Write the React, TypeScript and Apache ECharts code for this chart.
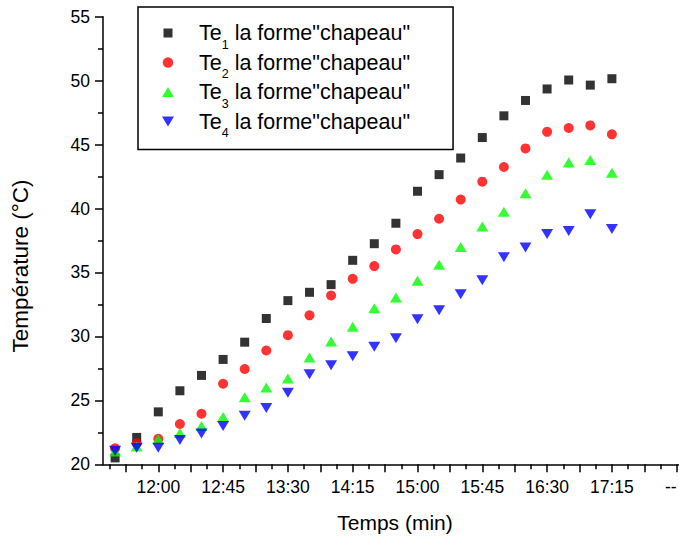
import React, { useEffect, useRef } from "react";
import * as echarts from "echarts";

// Sampling times (every 15 minutes)
const TIMES = [
  "11:30", "11:45", "12:00", "12:15", "12:30", "12:45", "13:00", "13:15",
  "13:30", "13:45", "14:00", "14:15", "14:30", "14:45", "15:00", "15:15",
  "15:30", "15:45", "16:00", "16:15", "16:30", "16:45", "17:00", "17:15",
];

// Temperatures (°C)
const TE1 = [
  20.5, 22.1, 24.1, 25.75, 26.95, 28.2, 29.55, 31.4, 32.8, 33.45, 34.05, 35.95,
  37.25, 38.85, 41.35, 42.65, 43.95, 45.55, 47.25, 48.45, 49.35, 50.05, 49.65, 50.15,
];
const TE2 = [
  21.25, 21.65, 22.0, 23.15, 23.95, 26.3, 27.45, 28.9, 30.1, 31.65, 33.2, 34.5,
  35.5, 36.8, 38.0, 39.2, 40.7, 42.1, 43.25, 44.7, 46.0, 46.3, 46.5, 45.8,
];
const TE3 = [
  21.0, 21.4, 21.95, 22.45, 23.0, 23.7, 25.25, 26.0, 26.7, 28.35, 29.6, 30.75,
  32.2, 33.05, 34.35, 35.6, 37.0, 38.6, 39.75, 41.2, 42.65, 43.6, 43.8, 42.8,
];
const TE4 = [
  21.05, 21.3, 21.3, 21.9, 22.4, 23.0, 23.8, 24.4, 25.6, 27.05, 27.75, 28.45,
  29.2, 29.85, 31.35, 32.05, 33.3, 34.4, 36.2, 36.95, 38.0, 38.25, 39.55, 38.4,
];

const SERIES_NAMES = ["Te1", "Te2", "Te3", "Te4"];
const SUBSCRIPTS = ["1", "2", "3", "4"];
const LEGEND_SUFFIX = ' la forme"chapeau"';

// X tick labels and where they sit
const TICK_LABEL_TIMES = ["12:00", "12:45", "13:30", "14:15", "15:00", "15:45", "16:30", "17:15", "18:00"];
const TICK_LABELS = ["12:00", "12:45", "13:30", "14:15", "15:00", "15:45", "16:30", "17:15", "--"];

const FONT = "'Liberation Sans', Arial, Helvetica, sans-serif";

// Legend icons (52x12 box; the invisible corner moves keep the box size)
const ICON_SQUARE = "path://M0 0M52 12M21.5 1.5L30.5 1.5L30.5 10.5L21.5 10.5Z";
const ICON_CIRCLE = "path://M0 0M52 12M20.75 6A5.25 5.25 0 1 1 31.25 6A5.25 5.25 0 1 1 20.75 6Z";
const ICON_UP = "path://M0 0M52 12M20 11L26 1L32 11Z";
const ICON_DOWN = "path://M0 0M52 12M20 1L32 1L26 11Z";
const LEGEND_ICONS = [ICON_SQUARE, ICON_CIRCLE, ICON_UP, ICON_DOWN];

function toMin(s: string): number {
  const [h, m] = s.split(":").map(Number);
  return h * 60 + m;
}

export default function App() {
  const ref = useRef<HTMLDivElement>(null);

  useEffect(() => {
    if (!ref.current) return;
    const chart = echarts.init(ref.current, null, { renderer: "svg" });

    const xMin = 681.6;
    const xMax = 1110;
    const pxPerMin = 1.44;
    const gridLeft = 103;
    const gridWidth = (xMax - xMin) * pxPerMin;

    const longTicks: number[] = [];
    for (let v = 697.5; v <= xMax; v += 22.5) longTicks.push(v);
    const shortTicks: number[] = [];
    for (let v = 686.25; v <= xMax; v += 22.5) shortTicks.push(v);
    const labelVals = TICK_LABEL_TIMES.map(toMin);

    const toData = (arr: number[]) => TIMES.map((t, i) => [toMin(t), arr[i]]);

    const axisLine = { lineStyle: { color: "#000", width: 1.5 } };

    const option: any = {
      animation: false,
      backgroundColor: "#fff",
      grid: {
        left: gridLeft,
        top: 16.7,
        width: gridWidth,
        bottom: 76.7,
        containLabel: false,
        outerBoundsMode: "none",
      },
      xAxis: [
        {
          type: "value",
          min: xMin,
          max: xMax,
          position: "bottom",
          axisLine: { show: true, onZero: false, ...axisLine },
          splitLine: { show: false },
          axisTick: {
            show: true,
            inside: false,
            length: 8,
            customValues: longTicks,
            lineStyle: { color: "#000", width: 1.5 },
          },
          axisLabel: {
            show: true,
            margin: 14,
            customValues: labelVals,
            color: "#000",
            fontSize: 17.5,
            fontFamily: FONT,
            alignMaxLabel: "right",
            formatter: (v: number) => {
              const idx = labelVals.findIndex((x) => Math.abs(x - v) < 1e-6);
              return idx >= 0 ? TICK_LABELS[idx] : "";
            },
          },
        },
        {
          type: "value",
          min: xMin,
          max: xMax,
          position: "bottom",
          axisLine: { show: false, onZero: false },
          splitLine: { show: false },
          axisTick: {
            show: true,
            inside: false,
            length: 5,
            customValues: shortTicks,
            lineStyle: { color: "#000", width: 1.5 },
          },
          axisLabel: { show: false },
        },
      ],
      yAxis: {
        type: "value",
        min: 20,
        max: 55,
        interval: 5,
        axisLine: { show: true, onZero: false, ...axisLine },
        splitLine: { show: false },
        axisTick: { show: true, inside: false, length: 8, lineStyle: { color: "#000", width: 1.5 } },
        minorTick: { show: true, splitNumber: 2, length: 5, lineStyle: { color: "#000", width: 1.5 } },
        minorSplitLine: { show: false },
        axisLabel: { margin: 13, color: "#000", fontSize: 17.5, fontFamily: FONT },
      },
      legend: {
        orient: "vertical",
        left: 138,
        top: 7,
        padding: [14, 43, 10, 4],
        itemWidth: 52,
        itemHeight: 12,
        itemGap: -0.5,
        symbolKeepAspect: true,
        symbolRotate: 0,
        borderColor: "#000",
        borderWidth: 1.5,
        selectedMode: false,
        data: SERIES_NAMES.map((n, i) => ({ name: n, icon: LEGEND_ICONS[i] })),
        formatter: (name: string) => {
          const i = SERIES_NAMES.indexOf(name);
          return `{m|Te}{s|${SUBSCRIPTS[i]}}{m|${LEGEND_SUFFIX}}`;
        },
        textStyle: {
          color: "#000",
          fontSize: 21.5,
          fontFamily: FONT,
          lineHeight: 24,
          rich: {
            m: { fontSize: 21.5, fontFamily: FONT, color: "#000", lineHeight: 24 },
            s: {
              fontSize: 12.5,
              fontFamily: FONT,
              color: "#000",
              lineHeight: 1,
              height: 1,
              verticalAlign: "bottom",
            },
          },
        },
      },
      graphic: [
        {
          type: "text",
          x: 395,
          y: 522,
          style: {
            text: "Temps (min)",
            fontSize: 21,
            fontFamily: FONT,
            fill: "#000",
            align: "center",
            verticalAlign: "middle",
          },
        },
        {
          type: "text",
          x: 20,
          y: 266,
          rotation: Math.PI / 2,
          style: {
            text: "Température (°C)",
            fontSize: 22.5,
            fontFamily: FONT,
            fill: "#000",
            align: "center",
            verticalAlign: "middle",
          },
        },
      ],
      series: [
        {
          type: "scatter",
          name: "Te1",
          data: toData(TE1),
          symbol: "rect",
          symbolSize: 9,
          itemStyle: { color: "#000000" },
        },
        {
          type: "scatter",
          name: "Te2",
          data: toData(TE2),
          symbol: "circle",
          symbolSize: 10,
          itemStyle: { color: "#ff0000" },
        },
        {
          type: "scatter",
          name: "Te3",
          data: toData(TE3),
          symbol: "triangle",
          symbolSize: [12, 10],
          itemStyle: { color: "#00ff00" },
        },
        {
          type: "scatter",
          name: "Te4",
          data: toData(TE4),
          symbol: "triangle",
          symbolRotate: 180,
          symbolSize: [12, 10],
          itemStyle: { color: "#0000ff" },
        },
      ],
    };

    chart.setOption(option);
    return () => {
      chart.dispose();
    };
  }, []);

  return (
    <div
      ref={ref}
      style={{ position: "absolute", left: 0, top: 0, width: 679, height: 541 }}
    />
  );
}
